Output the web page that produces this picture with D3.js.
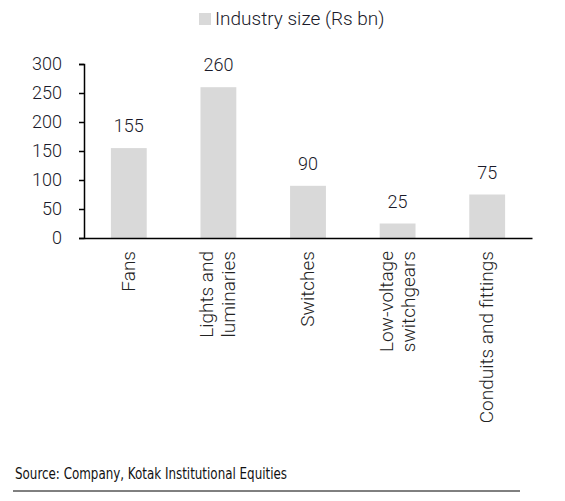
<!DOCTYPE html>
<html>
<head>
<meta charset="utf-8">
<script src="https://cdn.jsdelivr.net/npm/d3@7"></script>
<style>
  body { margin: 0; background: #fff; }
  svg text { font-family: Roboto, "Liberation Sans", sans-serif; }
</style>
</head>
<body>
<div id="chart"></div>
<script>
// data
var categories = [["Fans"], ["Lights and", "luminaries"], ["Switches"], ["Low-voltage", "switchgears"], ["Conduits and fittings"]];
var sizes = [155, 260, 90, 25, 75];
var yTicks = [0, 50, 100, 150, 200, 250, 300];
var seriesName = "Industry size (Rs bn)";
var sourceText = "Source: Company, Kotak Institutional Equities";

var W = 565, H = 501;
var margin = {top: 64, left: 84, right: 33, bottom: 263};
var width = W - margin.left - margin.right;
var height = H - margin.top - margin.bottom;

var svg = d3.select("#chart").append("svg")
  .attr("width", W)
  .attr("height", H);

var g = svg.append("g")
  .attr("transform", "translate(" + margin.left + "," + margin.top + ")");

var keys = categories.map(function(d){ return d.join(" "); });

var x = d3.scaleBand()
  .domain(keys)
  .range([0, width])
  .paddingInner(0.6)
  .paddingOuter(0.3);

var y = d3.scaleLinear()
  .domain([0, 300])
  .range([height, 0]);

// bars
g.selectAll(".bar")
  .data(sizes)
  .enter().append("rect")
    .attr("class", "bar")
    .attr("x", function(d, i){ return x(keys[i]); })
    .attr("width", x.bandwidth())
    .attr("y", function(d){ return y(d); })
    .attr("height", function(d){ return height - y(d); })
    .attr("fill", "#d9d9d9");

// value labels
g.selectAll(".val")
  .data(sizes)
  .enter().append("text")
    .attr("class", "val")
    .attr("x", function(d, i){ return x(keys[i]) + x.bandwidth() / 2; })
    .attr("y", function(d){ return y(d) - 16; })
    .attr("text-anchor", "middle")
    .attr("font-size", 18)
    .attr("font-weight", 300)
    .attr("fill", "#1a1a2a")
    .text(function(d){ return d; });

// y axis
var yAxis = g.append("g")
  .call(d3.axisLeft(y).tickValues(yTicks).tickSize(5).tickPadding(17));
yAxis.select(".domain").attr("stroke", "#000").attr("stroke-width", 1.5);
yAxis.selectAll(".tick line").attr("stroke", "#000").attr("stroke-width", 1.5);
yAxis.selectAll(".tick text")
  .attr("font-size", 18)
  .attr("font-weight", 300)
  .attr("fill", "#1a1a2a")
  .style("font-family", "Roboto, sans-serif");

// x axis line
var xAxis = g.append("g")
  .attr("transform", "translate(0," + height + ")")
  .call(d3.axisBottom(x).tickSize(0).tickFormat(""));
xAxis.select(".domain").attr("stroke", "#000").attr("stroke-width", 1.5);

// rotated category labels
var lineGap = 22;
var catG = g.selectAll(".cat")
  .data(categories)
  .enter().append("text")
    .attr("class", "cat")
    .attr("text-anchor", "end")
    .attr("font-size", 19)
    .attr("font-weight", 300)
    .attr("fill", "#222")
    .attr("transform", function(d, i){
      var cx = x(keys[i]) + x.bandwidth() / 2;
      return "translate(" + cx + "," + (height + 13) + ") rotate(-90)";
    });
catG.each(function(d){
  var t = d3.select(this);
  var n = d.length;
  d.forEach(function(line, j){
    t.append("tspan")
      .attr("x", 0)
      .attr("y", (j - (n - 1) / 2) * lineGap + 6)
      .text(line);
  });
});

// legend
var leg = svg.append("g").attr("transform", "translate(199,13)");
leg.append("rect").attr("width", 12).attr("height", 12).attr("fill", "#d9d9d9");
leg.append("text")
  .attr("x", 16).attr("y", 12)
  .attr("font-size", 19)
  .attr("font-weight", 300)
  .attr("fill", "#1a1a2a")
  .text(seriesName);

// source
svg.append("text")
  .attr("x", 15).attr("y", 479)
  .attr("font-size", 16)
  .attr("font-weight", 500)
  .attr("fill", "#111")
  .style("font-family", "'Liberation Sans Narrow', 'DejaVu Sans Condensed', sans-serif")
  .attr("textLength", 272)
  .attr("lengthAdjust", "spacingAndGlyphs")
  .text(sourceText);

svg.append("line")
  .attr("x1", 13).attr("x2", 520)
  .attr("y1", 491).attr("y2", 491)
  .attr("stroke", "#000").attr("stroke-width", 1);
</script>
</body>
</html>
